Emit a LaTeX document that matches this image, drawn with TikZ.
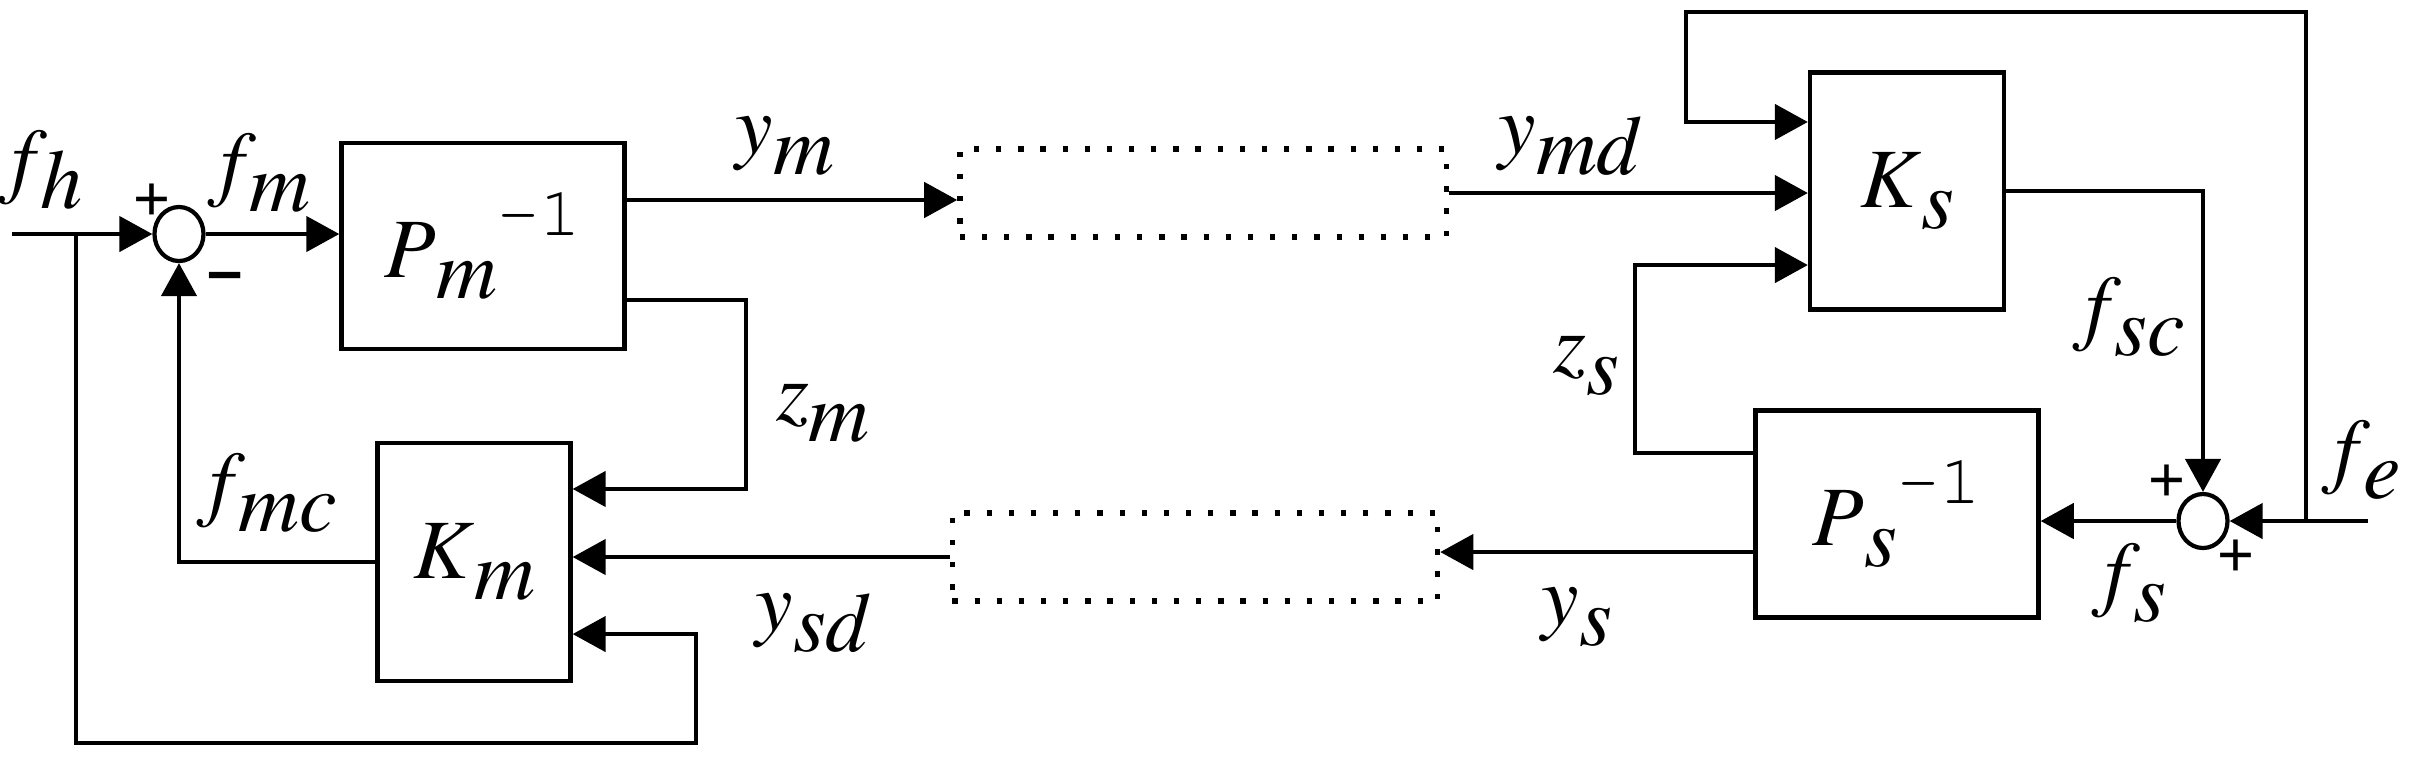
\documentclass[tikz,border=0pt]{standalone}
\usepackage{fontspec}
\setmainfont{texgyretermes-regular.otf}[ItalicFont=texgyretermes-italic.otf]
\setmonofont{texgyrecursor-regular.otf}
\newfontfamily\signfont{Liberation Sans}
\usetikzlibrary{arrows.meta,shapes.geometric}
\newcommand{\sig}[3][0em]{\textit{#2}\kern#1\raisebox{-0.25em}{\textit{#3}}}
\newcommand{\inv}[2]{\textit{#1}\raisebox{-0.25em}{\textit{#2}}\raisebox{0.5em}{\fontsize{20}{21}\selectfont\ttfamily -1}}

\begin{document}
\begin{tikzpicture}[x=0.01cm,y=-0.01cm,line width=1.2pt,
    font=\fontsize{24}{28}\selectfont,
    block/.style={draw,inner sep=0pt},
    delay/.style={draw,line width=1.5pt,dash pattern=on 1.5pt off 4.8pt,inner sep=0pt,minimum width=#1,minimum height=0.88cm},
    sum/.style={draw,ellipse,inner sep=0pt,minimum width=0.49cm,minimum height=0.54cm},
    sig/.style={-{Triangle[length=9.4pt,width=10pt]}},
    sign/.style={font=\signfont\fontsize{18}{18}\selectfont}]
    \useasboundingbox (0,0) rectangle (2414,759);

    % blocks
    \node[block,minimum width=2.83cm,minimum height=2.06cm] (Pm) at (483,246){\inv{P}{m}};
    \node[block,minimum width=1.93cm,minimum height=2.38cm] (Km) at (474,562){\sig{K}{m}};
    \node[block,minimum width=1.94cm,minimum height=2.37cm] (Ks) at (1907,191){\sig{K}{s}};
    \node[block,minimum width=2.83cm,minimum height=2.07cm] (Ps) at (1897,514){\inv{P}{s}};
    \node[delay=4.86cm] (D1) at (1203,193){};
    \node[delay=4.85cm] (D2) at (1195,557){};
    \node[sum] (S1) at (179,234){};
    \node[sum] (S2) at (2203,521){};

    % free ends and bends
    \coordinate (fhin) at (12,234);
    \coordinate (fhj) at (76,234);
    \coordinate (fein) at (2368,521);
    \coordinate (fej) at (2306,521);
    \coordinate (topL) at (1686,12);
    \coordinate (botR) at (696,743);
    \coordinate (zmx) at (746,0);
    \coordinate (zsx) at (1635,0);
    \coordinate (PmA) at ([yshift=0.46cm]Pm.east);
    \coordinate (PmB) at ([yshift=-0.54cm]Pm.east);
    \coordinate (KmA) at ([yshift=0.73cm]Km.east);
    \coordinate (KmC) at ([yshift=-0.72cm]Km.east);
    \coordinate (KsA) at ([yshift=0.69cm]Ks.west);
    \coordinate (KsC) at ([yshift=-0.74cm]Ks.west);
    \coordinate (PsA) at ([yshift=0.61cm]Ps.west);
    \coordinate (PsB) at ([yshift=-0.38cm]Ps.west);

    % master side
    \draw[sig] (fhin) -- (S1);
    \draw[sig] (S1.east) -- (S1.east -| Pm.west);
    \draw[sig] (PmA) -- (PmA -| D1.west);
    \draw[sig] (PmB) -- (PmB -| zmx) |- (KmA);
    \draw[sig] (D2.west) -- (D2.west -| Km.east);
    \draw[sig] (Km.west) -| (S1);
    \draw[sig] (fhj) |- (botR) |- (KmC);

    % slave side
    \draw[sig] (D1.east) -- (D1.east -| Ks.west);
    \draw[sig] (fej) |- (topL) |- (KsA);
    \draw[sig] (PsA) -- (PsA -| zsx) |- (KsC);
    \draw[sig] (Ks.east) -| (S2);
    \draw[sig] (fein) -- (S2);
    \draw[sig] (S2) -- (S2 -| Ps.east);
    \draw[sig] (PsB) -- (PsB -| D2.east);

    % labels
    \node (lfh) at (47,170){\sig[-0.08em]{f}{h}};
    \node (lfm) at (265,173){\sig[-0.08em]{f}{m}};
    \node (lym) at (785,146){\sig{y}{m}};
    \node (lymd) at (1570,146){\sig{y}{md}};
    \node (lzm) at (823,413){\sig{z}{m}};
    \node (lfmc) at (273,493){\sig[-0.08em]{f}{mc}};
    \node (lysd) at (813,623){\sig{y}{sd}};
    \node (lys) at (1577,617){\sig{y}{s}};
    \node (lzs) at (1586,366){\sig{z}{s}};
    \node (lfsc) at (2135,317){\sig[-0.08em]{f}{sc}};
    \node (lfs) at (2135,583){\sig[-0.08em]{f}{s}};
    \node (lfe) at (2368,460){\sig[-0.08em]{f}{e}};
    \node[sign] (p1) at (152,202){+};
    \node[sign] (m1) at (225,282){\textbf{–}};
    \node[sign] (p2) at (2167,483){+};
    \node[sign] (p3) at (2236,558){+};
\end{tikzpicture}
\end{document}
